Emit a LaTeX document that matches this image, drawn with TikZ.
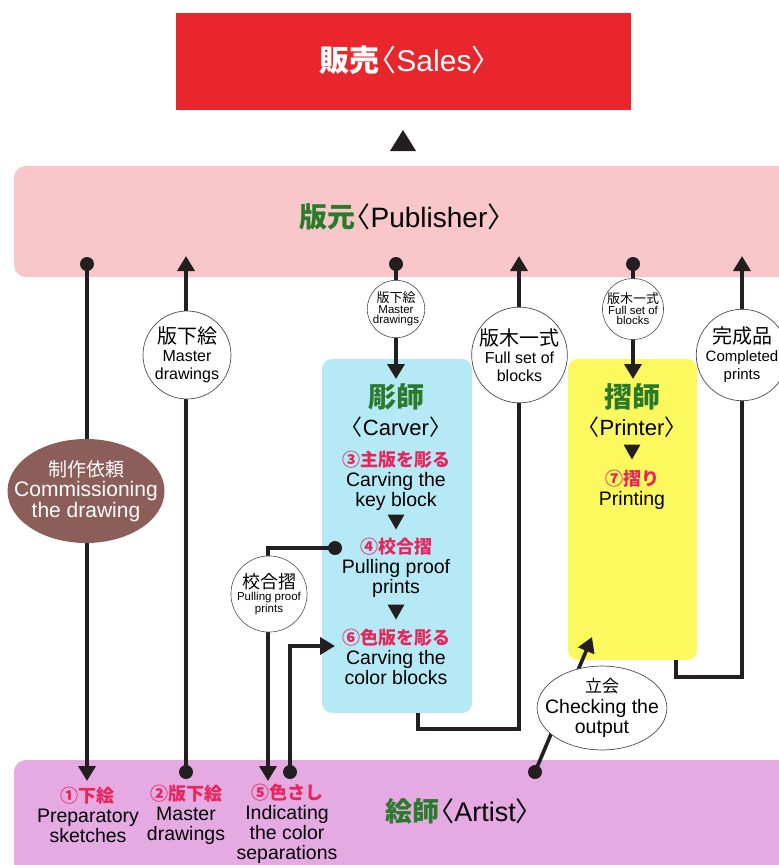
\documentclass[tikz,border=0pt]{standalone}
\usepackage{fontspec}
\setmainfont{Liberation Sans}
\newfontfamily\jpfont{Noto Sans CJK JP}
\usetikzlibrary{arrows.meta,shapes.geometric}

\definecolor{salesred}{HTML}{E8262C}
\definecolor{pubpink}{HTML}{F9C7CA}
\definecolor{carvercyan}{HTML}{B5E9F5}
\definecolor{printyellow}{HTML}{FCF95E}
\definecolor{artistpink}{HTML}{E6AAE3}
\definecolor{commbrown}{HTML}{8C5E5A}
\definecolor{rolegreen}{HTML}{2A7A2C}
\definecolor{stepred}{HTML}{E8245A}
\definecolor{linegray}{HTML}{231F20}

\newcommand{\JP}[1]{{\jpfont #1}}
\newcommand{\JPB}[1]{{\jpfont\bfseries #1}}
\newcommand{\lang}{{\jpfont\kern-0.45em〈}}		%tight opening bracket
\newcommand{\rang}{{\jpfont〉\kern-0.45em}}		%tight closing bracket
\newcommand{\fsz}[2]{\fontsize{#1}{#2}\selectfont}
\newcommand{\steplabel}[1]{{\color{stepred}\jpfont\bfseries\fsz{18}{20}#1}}
\newcommand{\tridown}[2]{\fill[linegray] (#1-8.5,#2-7.5) -- (#1+8.5,#2-7.5) -- (#1,#2+7.5) -- cycle;}

\begin{document}
\begin{tikzpicture}[x=1pt,y=-1pt,
	conn/.style={line width=3.6pt, draw=linegray},
	tip/.style={-{Triangle[width=17pt,length=15pt]}},
	blackdot/.style={circle, fill=linegray, inner sep=0pt, minimum size=14pt},
	band/.style={fill=#1, rounded corners=12pt, inner sep=0pt},
	bigtag/.style={circle, draw=black!70, line width=0.7pt, fill=white, minimum size=88pt, inner sep=0pt, align=center, font=\fsz{16}{18}},
	smalltag/.style={circle, draw=black!70, line width=0.6pt, fill=white, minimum size=56pt, inner sep=0pt, align=center, font=\fsz{11.5}{10.5}},
	steptext/.style={align=center, inner sep=0pt, font=\fsz{19.5}{20}},
	]
	\clip (0,0) rectangle (779,865);

	%coloured boxes
	\node[band=salesred, rounded corners=0pt, minimum width=455pt, minimum height=97pt] (sales) at (403.5,61) {};
	\node[band=pubpink, minimum width=790pt, minimum height=111pt] (publisher) at (409,221.5) {};
	\node[band=carvercyan, rounded corners=10pt, minimum width=150pt, minimum height=354pt] (carver) at (397,536) {};
	\node[band=printyellow, rounded corners=10pt, minimum width=129pt, minimum height=301pt] (printer) at (632.5,509.5) {};
	\node[band=artistpink, minimum width=790pt, minimum height=130pt] (artist) at (409,825) {};

	%sales
	\node[text=white, font=\fsz{30}{32}] (salestxt) at (404,60) {\JPB{販売}\lang Sales\rang};
	\fill[linegray] (403-13,151) -- (403+13,151) -- (403,130) -- cycle;

	%ports on the publisher (top) and the artist (bottom)
	\node[blackdot] (pubA) at (87,264) {};
	\node[blackdot] (pubC) at (396,264) {};
	\node[blackdot] (pubE) at (633,264) {};
	\coordinate (pubB) at (186,256);
	\coordinate (pubD) at (519,256);
	\coordinate (pubF) at (742,256);

	\coordinate (artA) at (87,781);
	\node[blackdot] (artB) at (186,772) {};
	\coordinate (artC) at (268,781);
	\node[blackdot] (artD) at (290,772) {};
	\node[blackdot] (artE) at (535,772) {};

	%ports on the carver and the printer
	\coordinate (cvtop) at (396,379);
	\node[blackdot] (cvproof) at (335,548) {};
	\coordinate (cvcolor) at (335,646);
	\coordinate (cvout) at (418,713);
	\coordinate (prtop) at (633,379);
	\coordinate (prcheck) at (592,637);
	\coordinate (prout) at (676,660);

	%connectors
	\draw[conn,tip] (pubA.center) -- (artA);
	\draw[conn,tip] (artB.center) -- (pubB);
	\draw[conn,tip] (pubC.center) -- (cvtop);
	\draw[conn,tip] (cvout) -- ++(0,16) -| (pubD);
	\draw[conn,tip] (pubE.center) -- (prtop);
	\draw[conn,tip] (prout) -- ++(0,17) -| (pubF);
	\draw[conn,tip] (cvproof.center) -| (artC);
	\draw[conn,tip] (artD.center) |- (cvcolor);
	\draw[conn,tip] (artE.center) -- (prcheck);

	%tags on the connectors
	\node[ellipse, fill=commbrown, minimum width=157pt, minimum height=104pt, inner xsep=-17pt, inner ysep=0pt, align=center, text=white, font=\fsz{21}{20.5}] (commission) at (86,491) {\JP{\fsz{19}{20.5}制作依頼}\\Commissioning\\the drawing};
	\node[bigtag] (mastertag) at (187,355) {\JP{\fsz{20}{19}版下絵}\\Master\\drawings};
	\node[smalltag] (mastertagb) at (396,309) {\JP{\fsz{13}{11}版下絵}\\Master\\drawings};
	\node[bigtag] (blockstag) at (519.5,355) {\JP{\fsz{20}{19}版木一式}\\Full set of\\blocks};
	\node[smalltag] (blockstagb) at (633,309) {\JP{\fsz{13}{11}版木一式}\\Full set of\\blocks};
	\node[bigtag, font=\fsz{15}{18}] (printstag) at (742,355) {\JP{\fsz{20}{19}完成品}\\Completed\\prints};
	\node[circle, draw=black!70, line width=0.6pt, fill=white, minimum size=74pt, inner sep=0pt, align=center, font=\fsz{11.5}{12}] (prooftag) at (269,594) {\JP{\fsz{18}{19}校合摺}\\Pulling proof\\prints};
	\node[ellipse, draw=black!70, line width=0.7pt, fill=white, minimum width=129pt, minimum height=72pt, inner xsep=-11pt, inner ysep=0pt, align=center, font=\fsz{19.5}{20.5}] (checktag) at (602,708) {\JP{\fsz{17}{20.5}立会}\\Checking the\\output};

	%publisher
	\node[font=\fsz{28}{30}] (pubtxt) at (401,217) {\textcolor{rolegreen}{\JPB{版元}}\lang Publisher\rang};

	%carver
	\node[font=\fsz{28}{30}, text=rolegreen] (cvtitle) at (396,397) {\JPB{彫師}};
	\node[font=\fsz{22}{24}] (cvname) at (396,427) {\lang Carver\rang};
	\node[steptext] (step3) at (396,481) {\steplabel{③主版を彫る}\\Carving the\\key block};
	\tridown{396}{522}
	\node[steptext] (step4) at (396,568) {\steplabel{④校合摺}\\Pulling proof\\prints};
	\tridown{396}{612}
	\node[steptext] (step6) at (396,657) {\steplabel{⑥色版を彫る}\\Carving the\\color blocks};

	%printer
	\node[font=\fsz{28}{30}, text=rolegreen] (prtitle) at (632,397) {\JPB{摺師}};
	\node[font=\fsz{22}{24}] (prname) at (632,427) {\lang Printer\rang};
	\tridown{632}{452}
	\node[steptext] (step7) at (632,490) {\steplabel{⑦摺り}\\Printing};

	%artist
	\node[font=\fsz{27}{30}] (arttxt) at (458,811) {\textcolor{rolegreen}{\JPB{絵師}}\lang Artist\rang};
	\node[steptext] (step1) at (88,815) {\steplabel{①下絵}\\Preparatory\\sketches};
	\node[steptext] (step2) at (186,815) {\steplabel{②版下絵}\\Master\\drawings};
	\node[steptext] (step5) at (287,824) {\steplabel{⑤色さし}\\Indicating\\the color\\separations};
\end{tikzpicture}
\end{document}
